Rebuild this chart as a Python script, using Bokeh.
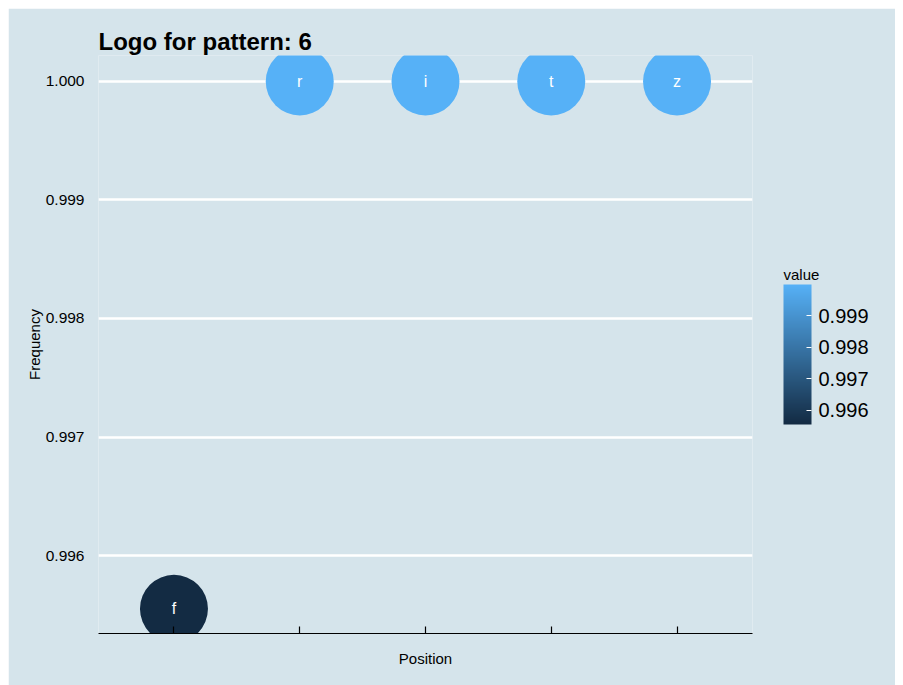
import numpy as np
from bokeh.plotting import figure
from bokeh.models import ColumnDataSource, LinearColorMapper, ColorBar, FixedTicker, NumeralTickFormatter, Range1d
from bokeh.core.properties import value
from bokeh.embed import file_html
from bokeh.resources import INLINE

positions = [1, 2, 3, 4, 5]
letters = ["f", "r", "i", "t", "z"]
frequencies = [0.99555, 1.0, 1.0, 1.0, 1.0]
y_ticks = [0.996, 0.997, 0.998, 0.999, 1.000]
cb_ticks = [0.996, 0.997, 0.998, 0.999]

BG = "#d5e4eb"
LOW = "#132B43"
HIGH = "#56B1F7"
FONT = "Liberation Sans"

def grad(c1, c2, n=256):
    a = np.array([int(c1[i:i + 2], 16) for i in (1, 3, 5)], float)
    b = np.array([int(c2[i:i + 2], 16) for i in (1, 3, 5)], float)
    out = []
    for t in np.linspace(0, 1, n):
        c = a + (b - a) * t
        out.append("#%02x%02x%02x" % tuple(int(round(v)) for v in c))
    return out

src = ColumnDataSource(dict(pos=positions, freq=frequencies, letter=letters))
mapper = LinearColorMapper(palette=grad(LOW, HIGH), low=min(frequencies), high=max(frequencies))

p = figure(width=887, height=677, output_backend="svg", toolbar_location=None,
           x_range=Range1d(0.4, 5.6), y_range=Range1d(0.995342, 1.000219),
           min_border_left=90, min_border_top=47, min_border_bottom=52, min_border_right=143,
           background_fill_color=BG, border_fill_color=BG,
           outline_line_color=None, title="Logo for pattern:  6")
p.margin = (8, 0, 0, 8)

p.title.text_font = FONT
p.title.text_font_size = "24px"
p.title.text_font_style = "bold"
p.title.text_color = "black"
p.title.standoff = 2

p.scatter(x="pos", y="freq", source=src, size=68,
          fill_color={"field": "freq", "transform": mapper}, line_color=None)
p.text(x="pos", y="freq", text="letter", source=src, text_color="white",
       text_align="center", text_baseline="middle", text_font=value(FONT), text_font_size="16px")

p.xgrid.visible = False
p.ygrid.ticker = FixedTicker(ticks=y_ticks)
p.ygrid.grid_line_color = "white"
p.ygrid.grid_line_width = 2.5

p.xaxis.ticker = FixedTicker(ticks=positions)
p.xaxis.axis_line_color = "black"
p.xaxis.axis_line_width = 1.2
p.xaxis.major_tick_line_color = "black"
p.xaxis.major_tick_line_width = 1.2
p.xaxis.major_tick_in = 7
p.xaxis.major_tick_out = 0
p.xaxis.minor_tick_line_color = None
p.xaxis.major_label_text_font_size = "0px"
p.xaxis.major_label_standoff = 0
p.xaxis.axis_label = "Position"
p.xaxis.axis_label_text_font = FONT
p.xaxis.axis_label_text_font_size = "15px"
p.xaxis.axis_label_text_font_style = "normal"
p.xaxis.axis_label_text_color = "black"
p.xaxis.axis_label_standoff = 16

p.yaxis.ticker = FixedTicker(ticks=y_ticks)
p.yaxis.formatter = NumeralTickFormatter(format="0.000")
p.yaxis.axis_line_color = None
p.yaxis.major_tick_line_color = None
p.yaxis.minor_tick_line_color = None
p.yaxis.major_label_standoff = 8
p.yaxis.major_label_text_font = FONT
p.yaxis.major_label_text_font_size = "15.5px"
p.yaxis.major_label_text_color = "black"
p.yaxis.axis_label = "Frequency"
p.yaxis.axis_label_text_font = FONT
p.yaxis.axis_label_text_font_size = "15px"
p.yaxis.axis_label_text_font_style = "normal"
p.yaxis.axis_label_text_color = "black"
p.yaxis.axis_label_standoff = 0

cb = ColorBar(color_mapper=mapper, ticker=FixedTicker(ticks=cb_ticks),
              formatter=NumeralTickFormatter(format="0.000"),
              width=28, height=140, location=(685, 209), margin=0, padding=0,
              major_label_text_font=FONT, major_label_text_font_size="20px",
              major_label_text_color="black", label_standoff=7,
              major_tick_line_color="white", major_tick_in=5, major_tick_out=0,
              minor_tick_line_color=None, bar_line_color=None,
              background_fill_color=BG, background_fill_alpha=0, border_line_color=None)
p.add_layout(cb, "center")

# legend title "value", drawn by a bar-less horizontal colour bar so that it sits above the bar
cb_title = ColorBar(color_mapper=mapper, orientation="horizontal", ticker=FixedTicker(ticks=[]),
                    width=40, height=1, location=(685, 350), margin=0, padding=0,
                    scale_alpha=0, major_label_text_font_size="0px", label_standoff=0,
                    major_tick_line_color=None, minor_tick_line_color=None, bar_line_color=None,
                    title="value", title_text_font=FONT, title_text_font_size="15px",
                    title_text_font_style="normal", title_text_color="black", title_standoff=0,
                    background_fill_alpha=0, border_line_color=None)
p.add_layout(cb_title, "center")

open("out.html", "w").write(file_html(p, INLINE))
